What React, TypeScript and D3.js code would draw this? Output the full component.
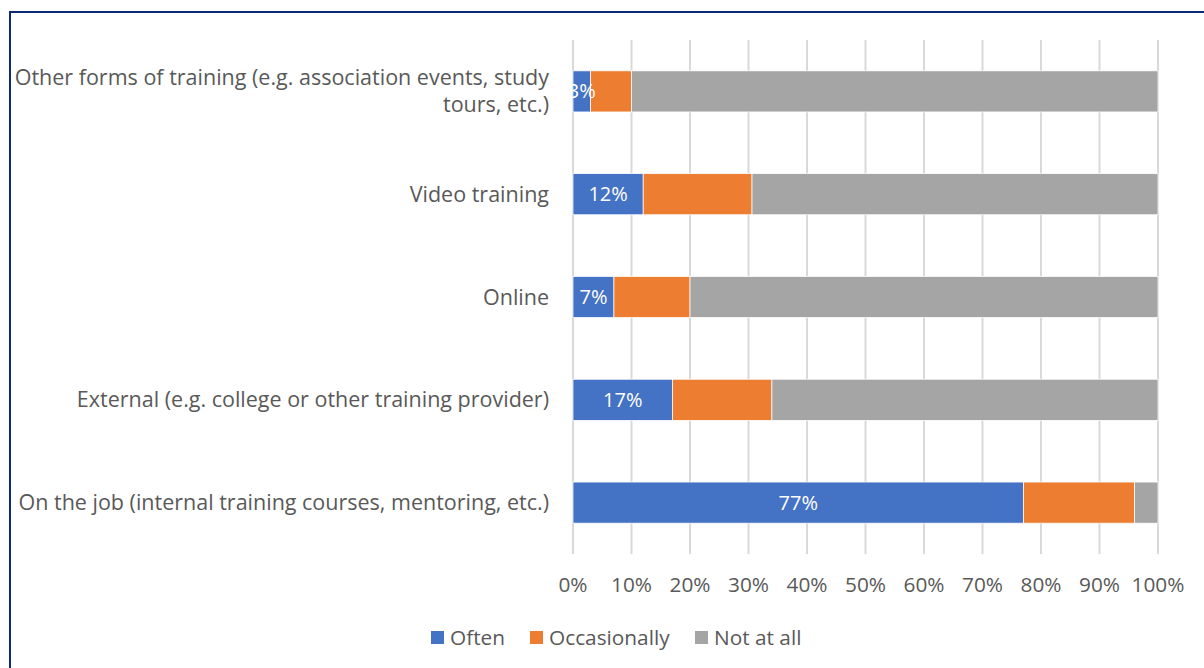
import React from "react";
import * as d3 from "d3";

const categories = [
  "Other forms of training (e.g. association events, study tours, etc.)",
  "Video training",
  "Online",
  "External (e.g. college or other training provider)",
  "On the job (internal training courses, mentoring, etc.)",
];
const categoryLines: string[][] = [
  ["Other forms of training (e.g. association events, study", "tours, etc.)"],
  ["Video training"],
  ["Online"],
  ["External (e.g. college or other training provider)"],
  ["On the job (internal training courses, mentoring, etc.)"],
];
const often = [3, 12, 7, 17, 77];
const occasionally = [7, 18.6, 13, 17, 19];
const notAtAll = [90, 69.4, 80, 66, 4];
const seriesNames = ["Often", "Occasionally", "Not at all"];
const seriesColors = ["#4472C4", "#ED7D31", "#A5A5A5"];
const tickValues = [0, 10, 20, 30, 40, 50, 60, 70, 80, 90, 100];

const FONT = "'Open Sans', sans-serif";

export default function App() {
  const W = 1204, H = 668;
  const x = d3.scaleLinear().domain([0, 100]).range([573, 1158]);
  const y = d3.scaleBand<string>().domain(categories).range([40, 554]).paddingInner(0.6).paddingOuter(0.3);
  const series = [often, occasionally, notAtAll];
  const stacked = categories.map((c, i) => {
    let acc = 0;
    return series.map((s, k) => {
      const x0 = acc;
      acc += s[i];
      return { k, x0, x1: acc, v: s[i] };
    });
  });
  const legendX = [431, 530, 695];
  return (
    <svg width={W} height={H} style={{ position: "absolute", left: 0, top: 0, background: "#fff" }} fontFamily={FONT}>
      <rect x={0} y={0} width={W} height={H} fill="#fff" />
      <path d={`M10,${H} V12 H${W}`} fill="none" stroke="#0B2A7A" strokeWidth={2} />
      {tickValues.map((t) => (
        <line key={t} x1={x(t)} x2={x(t)} y1={40} y2={554} stroke="#D9D9D9" strokeWidth={2} />
      ))}
      {categories.map((c, i) => (
        <g key={c}>
          {stacked[i].map((seg) => (
            <rect
              key={seg.k}
              x={x(seg.x0)}
              y={y(c)!}
              width={x(seg.x1) - x(seg.x0)}
              height={y.bandwidth()}
              fill={seriesColors[seg.k]}
              stroke="#fff"
              strokeWidth={0.75}
            />
          ))}
          <text
            x={(x(stacked[i][0].x0) + x(stacked[i][0].x1)) / 2}
            y={y(c)! + y.bandwidth() / 2}
            dy="0.35em"
            textAnchor="middle"
            fill="#fff"
            fontSize={20}
          >
            {`${often[i]}%`}
          </text>
          {categoryLines[i].map((line, j) => (
            <text
              key={j}
              x={549}
              y={y(c)! + y.bandwidth() / 2 + (j - (categoryLines[i].length - 1) / 2) * 27}
              dy="0.35em"
              textAnchor="end"
              fill="#595959"
              fontSize={21.5}
            >
              {line}
            </text>
          ))}
        </g>
      ))}
      {tickValues.map((t) => (
        <text key={t} x={x(t)} y={585} dy="0.35em" textAnchor="middle" fill="#595959" fontSize={20.8}>
          {`${t}%`}
        </text>
      ))}
      {seriesNames.map((n, k) => (
        <g key={n}>
          <rect x={legendX[k]} y={631} width={13} height={13} fill={seriesColors[k]} />
          <text x={legendX[k] + 19} y={637.5} dy="0.35em" fill="#595959" fontSize={20.8}>
            {n}
          </text>
        </g>
      ))}
    </svg>
  );
}
